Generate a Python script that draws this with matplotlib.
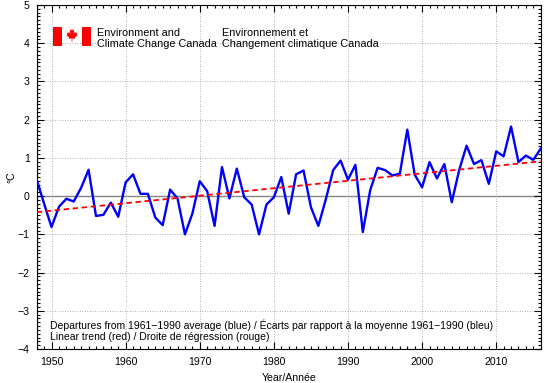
import matplotlib
matplotlib.use("Agg")
import matplotlib.pyplot as plt
from matplotlib.patches import Rectangle, Polygon
from matplotlib.ticker import MultipleLocator

plt.rcParams['font.family'] = ['Liberation Sans', 'DejaVu Sans']

years = list(range(1948, 2017))
anomaly = [
    0.43, -0.2, -0.81, -0.28, -0.07, -0.14, 0.22, 0.69, -0.52, -0.49,
    -0.17, -0.54, 0.36, 0.57, 0.06, 0.06, -0.56, -0.76, 0.17, -0.06,
    -1.0, -0.46, 0.39, 0.13, -0.78, 0.76, -0.06, 0.72, -0.03, -0.22,
    -1.0, -0.22, -0.03, 0.50, -0.46, 0.57, 0.67, -0.29, -0.78, -0.09,
    0.68, 0.93, 0.43, 0.82, -0.94, 0.16, 0.74, 0.68, 0.54, 0.59,
    1.74, 0.56, 0.23, 0.89, 0.46, 0.84, -0.16, 0.68, 1.32, 0.84,
    0.94, 0.32, 1.17, 1.04, 1.82, 0.89, 1.06, 0.95, 1.24]
trend_years = [1948, 2016]
trend_vals = [-0.42, 0.91]

logo_en = "Environment and\nClimate Change Canada"
logo_fr = "Environnement et\nChangement climatique Canada"
note = ("Departures from 1961\u22121990 average (blue) / \u00c9carts par rapport \u00e0 la moyenne 1961\u22121990 (bleu)\n"
        "Linear trend (red) / Droite de r\u00e9gression (rouge)")

W, H = 544, 383
fig = plt.figure(figsize=(W / 100, H / 100), dpi=100)
ax = fig.add_axes([36.7 / W, 1 - 349 / H, 504 / W, 344 / H])

ax.axhline(0, color='#808080', lw=1.0, zorder=1)
ax.plot(years, anomaly, color='#0000ff', lw=1.7, zorder=3)
ax.plot(trend_years, trend_vals, color='#ff0000', lw=1.3, ls=(0, (3, 2)), zorder=4)

ax.set_xlim(1948, 2016)
ax.set_ylim(-4, 5)
ax.xaxis.set_major_locator(MultipleLocator(10))
ax.xaxis.set_minor_locator(MultipleLocator(1))
ax.yaxis.set_major_locator(MultipleLocator(1))
ax.yaxis.set_minor_locator(MultipleLocator(0.1))
ax.tick_params(which='both', direction='in', top=True, right=True, labelsize=7.6, width=0.8)
ax.tick_params(which='major', length=5)
ax.tick_params(axis='x', which='major', pad=6)
ax.tick_params(axis='y', which='major', pad=5)
ax.tick_params(which='minor', length=2.5)
ax.grid(which='major', color='#999999', ls=(0, (1, 2)), lw=0.6)
for s in ax.spines.values():
    s.set_linewidth(0.8)

ax.set_xlabel("Year/Ann\u00e9e", fontsize=7.6)
ax.xaxis.set_label_coords(0.5, -24 / 344)
ax.set_ylabel("\u00b0C", fontsize=7.6)
ax.yaxis.set_label_coords(-20 / 504, 0.5)

ax.text(0.026, 0.053, note, transform=ax.transAxes, fontsize=7.5, va='center', ha='left', linespacing=1.15)

# logo
fig.text(97 / W, 1 - 28 / H, logo_en, fontsize=7.8, va='top', ha='left', linespacing=1.1)
fig.text(222 / W, 1 - 28 / H, logo_fr, fontsize=7.8, va='top', ha='left', linespacing=1.1)

fax = fig.add_axes([53.3 / W, 1 - 46 / H, 37.4 / W, 19.3 / H])
fax.set_xlim(0, 4)
fax.set_ylim(0, 2)
fax.axis('off')
fax.add_patch(Rectangle((0, 0), 0.9, 2, color='#ff0000', lw=0))
fax.add_patch(Rectangle((3.1, 0), 0.9, 2, color='#ff0000', lw=0))
leaf = [(0, 1), (0.12, 0.75), (0.3, 0.85), (0.25, 0.35), (0.45, 0.55), (0.5, 0.4), (0.75, 0.45),
        (0.65, 0.2), (0.8, 0.1), (0.4, -0.25), (0.45, -0.4), (0.05, -0.35), (0.05, -0.8),
        (-0.05, -0.8), (-0.05, -0.35), (-0.45, -0.4), (-0.4, -0.25), (-0.8, 0.1), (-0.65, 0.2),
        (-0.75, 0.45), (-0.5, 0.4), (-0.45, 0.55), (-0.25, 0.35), (-0.3, 0.85), (-0.12, 0.75)]
fax.add_patch(Polygon([(2 + 0.75 * x, 1.05 + 0.75 * y) for x, y in leaf], color='#ff0000', lw=0))

fig.savefig("out.png", dpi=100)
